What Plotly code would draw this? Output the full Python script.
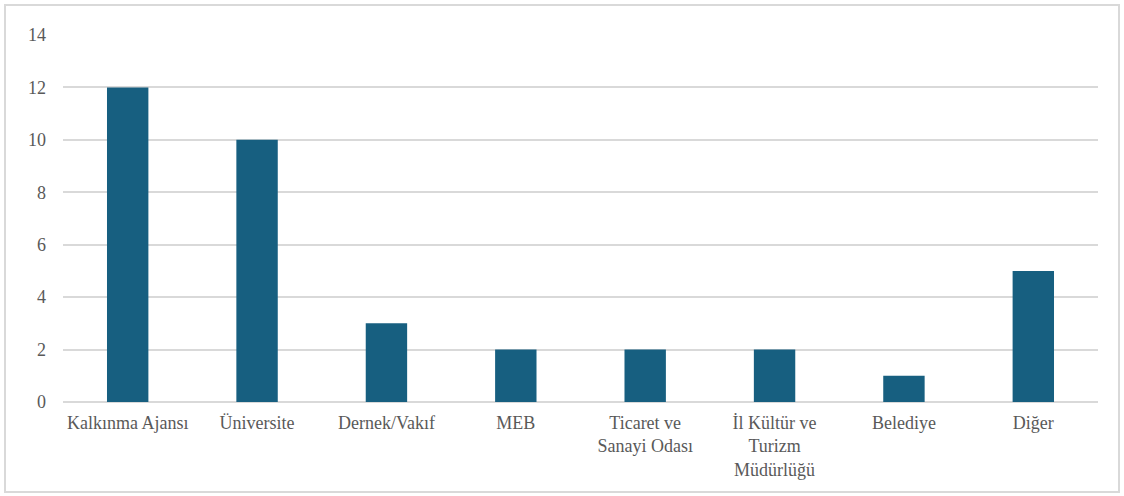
import plotly.graph_objects as go

categories = ["Kalkınma Ajansı", "Üniversite", "Dernek/Vakıf", "MEB",
              "Ticaret ve<br>Sanayi Odası", "İl Kültür ve<br>Turizm<br>Müdürlüğü",
              "Belediye", "Diğer"]
values = [12, 10, 3, 2, 2, 2, 1, 5]
y_ticks = [0, 2, 4, 6, 8, 10, 12, 14]

font_family = "'Liberation Serif', 'Times New Roman', 'DejaVu Serif', serif"
text_color = "#595959"
grid_color = "#d9d9d9"
fs = 18

fig = go.Figure(go.Bar(x=categories, y=values, marker_color="#175f80",
                       marker_line_width=0, width=0.32))

W, H = 1124, 496
ml, mr, mt, mb = 63, 26, 35, 94
pw, ph = W - ml - mr, H - mt - mb

fig.update_layout(
    width=W, height=H,
    margin=dict(l=ml, r=mr, t=mt, b=mb),
    paper_bgcolor="white", plot_bgcolor="white",
    font=dict(family=font_family, size=fs, color=text_color),
    showlegend=False,
    xaxis=dict(showgrid=False, showline=False, ticks="", tickangle=0,
               ticklabelstandoff=8,
               tickfont=dict(family=font_family, size=fs, color=text_color)),
    yaxis=dict(range=[0, 14], tickvals=y_ticks, showgrid=True,
               gridcolor=grid_color, gridwidth=1.5, zeroline=True,
               zerolinecolor=grid_color, zerolinewidth=1.5, showline=False,
               ticks="", ticklabelstandoff=16,
               tickfont=dict(family=font_family, size=fs, color=text_color)),
    shapes=[dict(type="rect", xref="paper", yref="paper",
                 x0=(5 - ml) / pw, x1=(1119 - ml) / pw,
                 y0=(H - mb - 492) / ph, y1=(H - mb - 5) / ph,
                 line=dict(color="#d9d9d9", width=2), fillcolor="rgba(0,0,0,0)",
                 layer="below")],
)

fig.write_html("out.html", config={"displayModeBar": False},
               post_script="document.body.style.margin='0';document.body.style.overflow='hidden';")
